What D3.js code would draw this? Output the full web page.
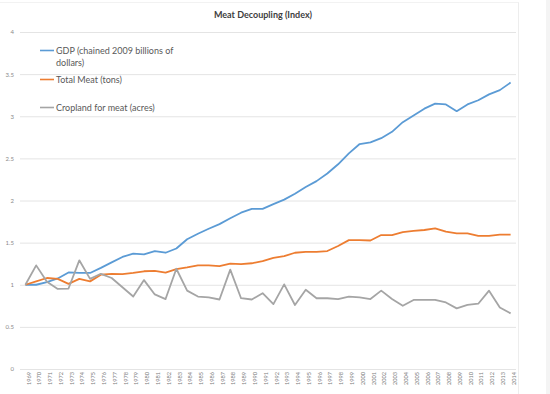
<!DOCTYPE html>
<html>
<head>
<meta charset="utf-8">
<script src="https://cdn.jsdelivr.net/npm/d3@7"></script>
<style>
  body { margin: 0; background: #fff; }
  #container { width: 550px; height: 394px; position: relative; }
  text { font-family: Lato, "Open Sans", sans-serif; }
</style>
</head>
<body>
<div id="container"></div>
<script>
// values (index, 1969 = 1)
const years = ["1969","1970","1971","1972","1973","1974","1975","1976","1977","1978","1979","1980",
  "1981","1982","1983","1984","1985","1986","1987","1988","1989","1990","1991","1992","1993","1994",
  "1995","1996","1997","1998","1999","2000","2001","2002","2003","2004","2005","2006","2007","2008",
  "2009","2010","2011","2012","2013","2014"];

const gdp = [1.00,1.00,1.03,1.075,1.146,1.14,1.14,1.20,1.265,1.33,1.37,1.36,1.40,1.38,1.43,1.54,
  1.605,1.665,1.72,1.79,1.855,1.90,1.90,1.957,2.01,2.08,2.16,2.23,2.32,2.43,2.56,2.67,2.69,2.74,
  2.815,2.93,3.01,3.09,3.15,3.14,3.06,3.14,3.19,3.26,3.31,3.40];

const meat = [1.00,1.04,1.08,1.07,1.01,1.07,1.04,1.12,1.13,1.125,1.14,1.16,1.165,1.145,1.185,1.205,
  1.23,1.23,1.22,1.25,1.245,1.255,1.28,1.32,1.34,1.38,1.39,1.39,1.40,1.46,1.53,1.53,1.525,1.59,
  1.59,1.625,1.64,1.65,1.67,1.63,1.61,1.61,1.58,1.58,1.595,1.595];

const cropland = [1.00,1.23,1.035,0.95,0.955,1.29,1.07,1.13,1.08,0.97,0.86,1.055,0.885,0.83,1.19,
  0.93,0.86,0.85,0.825,1.18,0.84,0.825,0.90,0.77,1.005,0.76,0.94,0.84,0.84,0.83,0.86,0.85,0.83,
  0.93,0.83,0.75,0.82,0.82,0.82,0.79,0.72,0.76,0.775,0.93,0.73,0.66];

const seriesNames = ["GDP (chained 2009 billions of dollars)", "Total Meat (tons)", "Cropland for meat (acres)"];
const yTicks = [0, 0.5, 1, 1.5, 2, 2.5, 3, 3.5, 4];

const width = 550, height = 394;
const margin = { top: 32, right: 34, bottom: 25, left: 20 };
const chartWidth = width - margin.left - margin.right;
const chartHeight = height - margin.top - margin.bottom;

const svg = d3.select("#container").append("svg")
  .attr("width", width).attr("height", height);

// faint frame / neighbouring panel
svg.append("rect").attr("x", 0).attr("y", 0).attr("width", width).attr("height", height).attr("fill", "#fff");
svg.append("rect").attr("x", 546).attr("y", 0).attr("width", 4).attr("height", height).attr("fill", "#f4f4f4");
svg.append("line").attr("x1", 518.5).attr("x2", 518.5).attr("y1", 2).attr("y2", height)
  .attr("stroke", "#ededed");
svg.append("line").attr("x1", 0).attr("x2", 518.5).attr("y1", 2.5).attr("y2", 2.5)
  .attr("stroke", "#f2f2f2");

const xScale = d3.scalePoint().domain(years).range([0, chartWidth]).padding(0.5);
const yScale = d3.scaleLinear().domain([0, 4]).range([chartHeight, 0]);

const plot = svg.append("g").attr("transform", "translate(" + margin.left + "," + margin.top + ")");

// gridlines
const yAxis = d3.axisLeft(yScale).tickValues(yTicks).tickSize(-chartWidth).tickFormat(d3.format("~g"));
const yAxisArea = plot.append("g").call(yAxis);
yAxisArea.select(".domain").remove();
yAxisArea.selectAll(".tick line").attr("stroke", "#e4e4e4");
yAxisArea.selectAll(".tick text")
  .attr("x", -6).style("font-size", "6px").attr("fill", "#8a8a8a");

// x axis labels (rotated)
const xAxis = d3.axisBottom(xScale).tickSize(0);
const xAxisArea = plot.append("g").attr("transform", "translate(0," + chartHeight + ")").call(xAxis);
xAxisArea.select(".domain").remove();
xAxisArea.selectAll("text")
  .style("text-anchor", "end")
  .style("font-size", "5.6px")
  .attr("fill", "#7a7a7a")
  .attr("dx", "-3px")
  .attr("dy", "0.3em")
  .attr("transform", "rotate(-90)");

const colors = ["#5b9bd5", "#ed7d31", "#a5a5a5"];
const allSeries = [gdp, meat, cropland];

const line = d3.line()
  .x((d, i) => xScale(years[i]))
  .y(d => yScale(d));

allSeries.forEach((s, k) => {
  plot.append("path")
    .datum(s)
    .attr("d", line)
    .attr("fill", "none")
    .attr("stroke", colors[k])
    .attr("stroke-width", 1.8)
    .attr("stroke-linejoin", "round");
});

// title
svg.append("text")
  .attr("x", 263).attr("y", 18)
  .attr("text-anchor", "middle")
  .style("font-size", "9px")
  .style("font-weight", "bold")
  .attr("fill", "#404040")
  .text("Meat Decoupling (Index)");

// legend
const legendRows = [
  { lines: ["GDP (chained 2009 billions of", "dollars)"], y: 51 },
  { lines: ["Total Meat (tons)"], y: 80 },
  { lines: ["Cropland for meat (acres)"], y: 108 }
];
legendRows.forEach((r, k) => {
  svg.append("line")
    .attr("x1", 40).attr("x2", 54).attr("y1", r.y - 0.5).attr("y2", r.y - 0.5)
    .attr("stroke", colors[k]).attr("stroke-width", 1.6);
  const t = svg.append("text")
    .attr("x", 56).attr("y", r.y + 3)
    .style("font-size", "9px")
    .attr("fill", "#595959");
  r.lines.forEach((l, j) => {
    t.append("tspan").attr("x", 56).attr("dy", j === 0 ? 0 : 12).text(l);
  });
});
</script>
</body>
</html>
